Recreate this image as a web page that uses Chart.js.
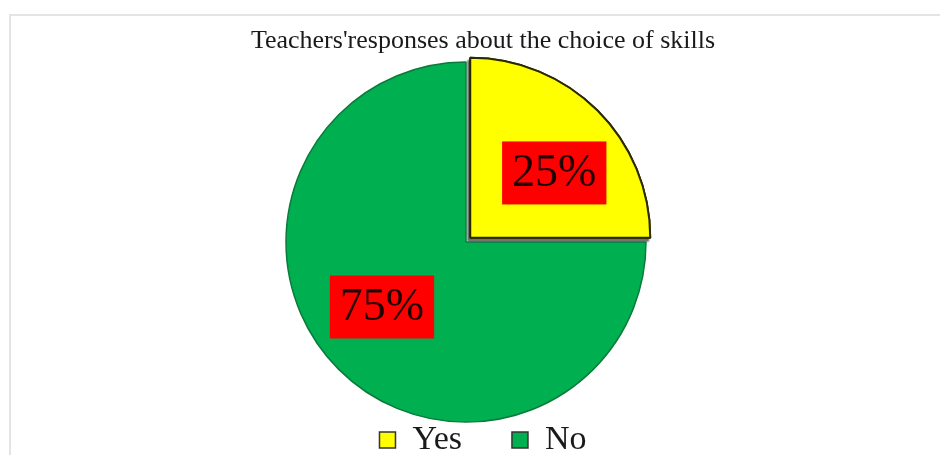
<!DOCTYPE html>
<html>
<head>
<meta charset="utf-8">
<script src="https://cdn.jsdelivr.net/npm/chart.js@4/dist/chart.umd.min.js"></script>
<style>
  html, body { margin: 0; padding: 0; background: #fff; }
  #wrap { position: relative; width: 940px; height: 455px; overflow: hidden; }
  #frame { position: absolute; left: 9px; top: 14px; right: -10px; bottom: -10px;
           border-left: 2px solid #e4e4e4; border-top: 2px solid #e4e4e4; }
  #chart { position: absolute; left: 0; top: 0; }
</style>
</head>
<body>
<div id="wrap">
  <div id="frame"></div>
  <canvas id="chart" width="940" height="455"></canvas>
</div>
<script>
// pie data
const TITLE = "Teachers'responses about the choice of skills";
const LABELS = ['Yes', 'No'];
const VALUES = [25, 75];
const COLORS = ['#FFFF00', '#00B050'];
const BORDERS = ['#2b2b00', '#0a7a3a'];

const SERIF = "'Liberation Serif', 'Times New Roman', serif";

// drop shadow under the exploded slice only
const sliceShadow = {
  id: 'sliceShadow',
  beforeDatasetDraw(chart) {
    const ctx = chart.ctx;
    const arc = chart.getDatasetMeta(0).data[0];
    ctx.save();
    ctx.shadowColor = 'rgba(0,0,0,0.5)';
    ctx.shadowOffsetX = -2;
    ctx.shadowOffsetY = 3;
    ctx.shadowBlur = 2;
    arc.draw(ctx);
    ctx.restore();
  }
};

// red percentage boxes on each slice (follows the exploded slice too)
const pctLabels = {
  id: 'pctLabels',
  afterDatasetsDraw(chart) {
    const ctx = chart.ctx;
    const meta = chart.getDatasetMeta(0);
    const total = VALUES.reduce((a, b) => a + b, 0);
    ctx.save();
    ctx.font = `46px ${SERIF}`;
    ctx.textAlign = 'center';
    ctx.textBaseline = 'middle';
    meta.data.forEach((arc, i) => {
      const p = arc.getProps(['x', 'y', 'startAngle', 'endAngle', 'outerRadius'], true);
      const mid = (p.startAngle + p.endAngle) / 2;
      const off = (arc.options.offset || 0) / 4;   // arc.draw shifts by offset/4
      const cx = p.x + Math.cos(mid) * (p.outerRadius * 0.66 + off);
      const cy = p.y + Math.sin(mid) * (p.outerRadius * 0.51 + off);
      const txt = Math.round(VALUES[i] / total * 100) + '%';
      const w = ctx.measureText(txt).width + 20;
      const h = 63;
      ctx.fillStyle = '#FF0000';
      ctx.fillRect(cx - w / 2, cy - h / 2, w, h);
      ctx.fillStyle = '#220000';
      ctx.fillText(txt, cx, cy + 1);
    });
    ctx.restore();
  }
};

const baseLegendLabels = Chart.overrides.doughnut.plugins.legend.labels.generateLabels;

new Chart(document.getElementById('chart'), {
  type: 'pie',
  data: {
    labels: LABELS,
    datasets: [{
      data: VALUES,
      backgroundColor: COLORS,
      borderColor: BORDERS,
      borderWidth: [2, 1.5],
      offset: [24, 0],
      clip: false,
    }]
  },
  options: {
    responsive: false,
    animation: false,
    devicePixelRatio: 1,
    radius: 180,
    layout: { padding: { left: 26, right: 0, top: 0, bottom: 0 } },
    // invisible right-hand box, only to nudge the pie left of the title centre
    scales: {
      y: {
        type: 'linear', display: true, position: 'right',
        grid: { display: false }, border: { display: false }, ticks: { display: false },
        afterFit: s => { s.width = 34; }
      }
    },
    plugins: {
      title: {
        display: true, text: TITLE, color: '#1a1a1a',
        font: { family: SERIF, size: 26, weight: 'normal' },
        padding: { top: 26, bottom: 54 }
      },
      legend: {
        display: true, position: 'bottom', maxHeight: 82,
        labels: {
          color: '#1a1a1a', boxWidth: 16, boxHeight: 16, padding: 50,
          font: { family: SERIF, size: 34 },
          generateLabels: chart => baseLegendLabels(chart).map(l => ({ ...l, strokeStyle: '#333333', lineWidth: 1.5 }))
        }
      },
      tooltip: { enabled: false }
    }
  },
  plugins: [sliceShadow, pctLabels]
});
</script>
</body>
</html>
